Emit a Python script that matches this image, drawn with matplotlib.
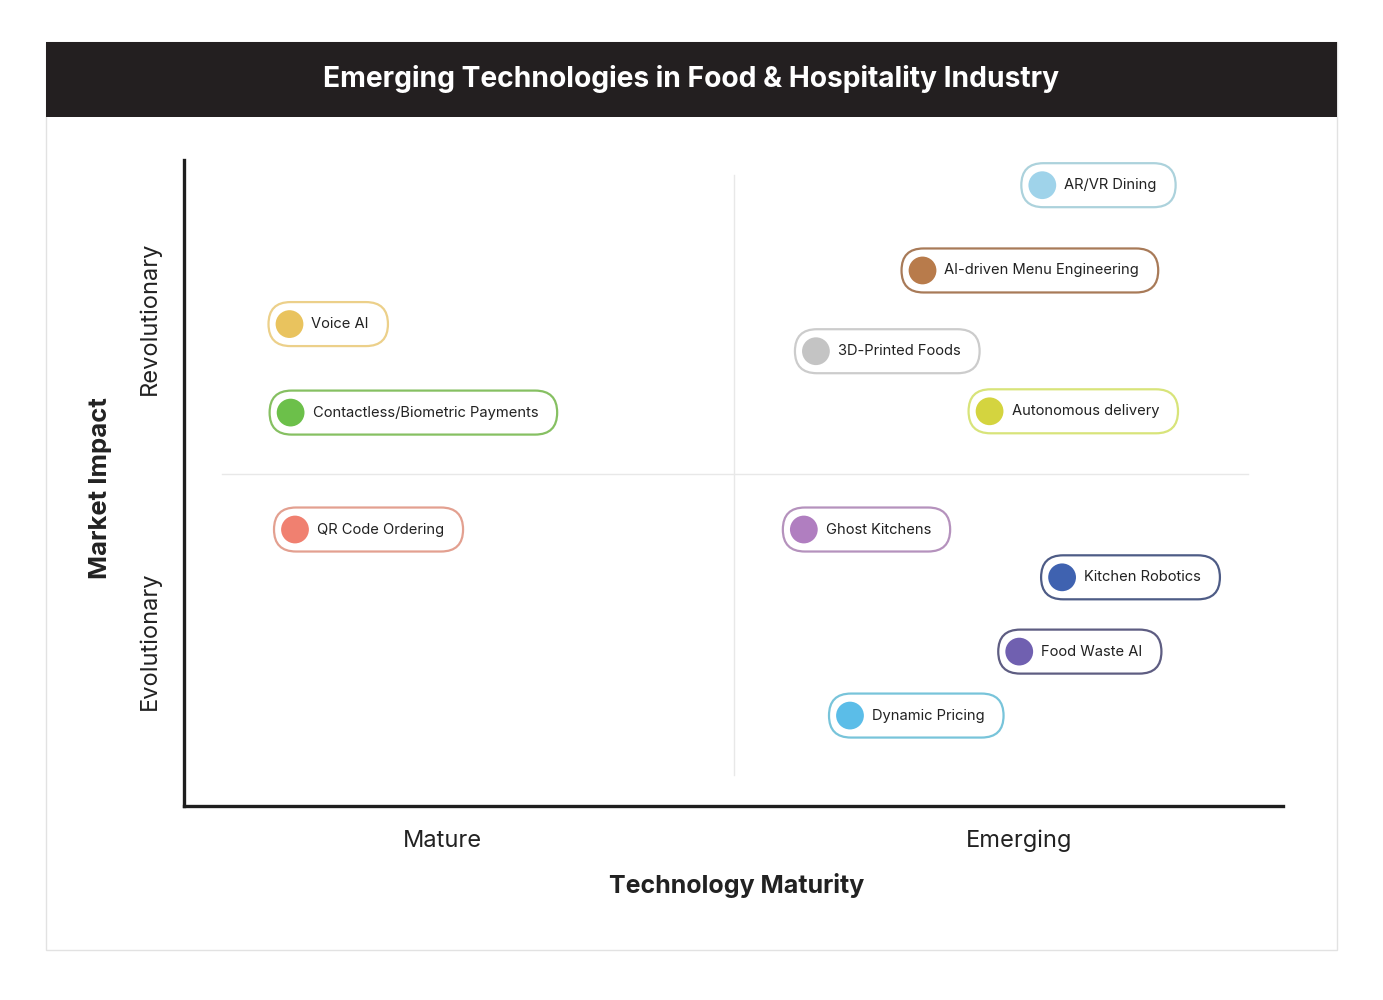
import matplotlib
matplotlib.use("Agg")
import matplotlib.pyplot as plt
from matplotlib.patches import FancyBboxPatch, Rectangle
from matplotlib.transforms import IdentityTransform

plt.rcParams['font.family'] = ['Inter', 'DejaVu Sans']

# technologies: maturity score (x), market impact score (y)
labels = ["Voice AI", "Contactless/Biometric Payments", "QR Code Ordering",
          "AR/VR Dining", "AI-driven Menu Engineering", "3D-Printed Foods",
          "Autonomous delivery", "Ghost Kitchens", "Kitchen Robotics",
          "Food Waste AI", "Dynamic Pricing"]
maturity = [0.96, 0.97, 1.01, 7.81, 6.72, 5.75, 7.33, 5.64, 7.99, 7.60, 6.06]
impact = [7.46, 6.09, 4.28, 9.61, 8.29, 7.04, 6.11, 4.28, 3.54, 2.39, 1.40]
dot_colors = ["#e9c35e", "#6cc04a", "#f08070", "#9fd3ea", "#b87b4b", "#c4c4c4",
              "#d4d43f", "#b07ec0", "#3f62b0", "#7060b0", "#5bbde8"]
edge_colors = ["#ecd08a", "#86c062", "#e3a090", "#acd2dc", "#a87a58", "#cccccc",
               "#d8e47a", "#b592bd", "#4e5c86", "#5e5d82", "#78c4da"]

x_labels = ["Mature", "Emerging"]
y_labels = ["Evolutionary", "Revolutionary"]

W, H = 1383, 1000
fig = plt.figure(figsize=(W / 100, H / 100), dpi=100)
fig.patch.set_facecolor("white")

# outer frame + title bar
fig.add_artist(Rectangle((46 / W, 1 - 950 / H), 1291 / W, 908 / H, transform=fig.transFigure,
                         fill=False, ec="#e2e2e2", lw=1))
fig.add_artist(Rectangle((46 / W, 1 - 117 / H), 1291 / W, 75 / H, transform=fig.transFigure,
                         fc="#231f20", ec="none"))
fig.text(691 / W, 1 - 79 / H, "Emerging Technologies in Food & Hospitality Industry",
         color="white", fontsize=20.3, fontweight="bold", ha="center", va="center")

ax = fig.add_axes([184 / W, 1 - 806 / H, 1099 / W, 646 / H])
ax.set_xlim(0, 10)
ax.set_ylim(0, 10)
for s in ["top", "right"]:
    ax.spines[s].set_visible(False)
for s in ["left", "bottom"]:
    ax.spines[s].set_linewidth(2.4)
    ax.spines[s].set_color("#1e1e1e")
ax.set_xticks([])
ax.set_yticks([])

# quadrant dividers
ax.plot([5, 5], [0.48, 9.77], color="#e8e8e8", lw=1, zorder=1)
ax.plot([0.35, 9.68], [5.14, 5.14], color="#e8e8e8", lw=1, zorder=1)

ax.scatter(maturity, impact, s=400, c=dot_colors, zorder=4, linewidths=0)
texts = []
for lab, x, y in zip(labels, maturity, impact):
    t = ax.annotate(lab, (x, y), xytext=(15.8, 0), textcoords="offset points",
                    ha="left", va="center", fontsize=10.6, color="#222222", zorder=5)
    texts.append(t)

fig.canvas.draw()
r = fig.canvas.get_renderer()
for t, x, y, ec in zip(texts, maturity, impact, edge_colors):
    bb = t.get_window_extent(r)
    px, py = ax.transData.transform((x, y))
    left = px - 21
    right = bb.x1 + 19
    pill = FancyBboxPatch((left, py - 22), right - left, 44,
                          boxstyle="round,pad=0,rounding_size=22",
                          transform=IdentityTransform(), fc="white", ec=ec, lw=1.6, zorder=3)
    ax.add_artist(pill)

# axis labels
fig.text(442 / W, 1 - 841 / H, x_labels[0], fontsize=17, color="#222222", ha="center", va="center")
fig.text(1019 / W, 1 - 841 / H, x_labels[1], fontsize=17, color="#222222", ha="center", va="center")
fig.text(737 / W, 1 - 886 / H, "Technology Maturity", fontsize=18, fontweight="bold",
         color="#222222", ha="center", va="center")
fig.text(150 / W, 1 - 641 / H, y_labels[0], fontsize=17, color="#222222", ha="center",
         va="center", rotation=90)
fig.text(150 / W, 1 - 318 / H, y_labels[1], fontsize=17, color="#222222", ha="center",
         va="center", rotation=90)
fig.text(100 / W, 1 - 488 / H, "Market Impact", fontsize=18.5, fontweight="bold",
         color="#222222", ha="center", va="center", rotation=90)

fig.savefig("out.png", dpi=100)
